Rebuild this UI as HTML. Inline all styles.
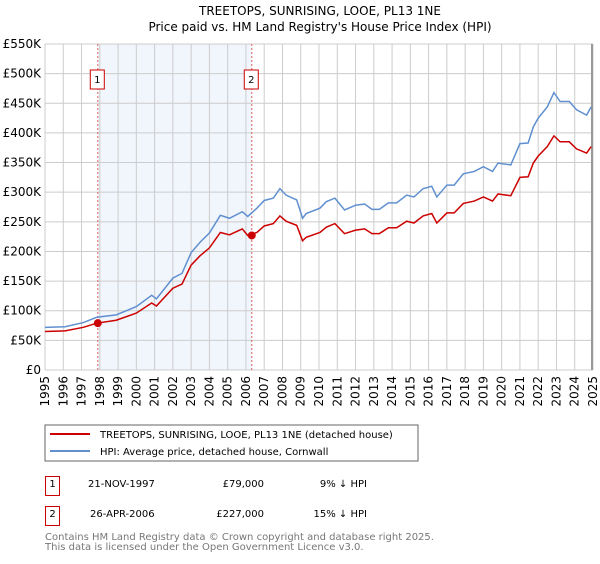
<!DOCTYPE html>
<html><head><meta charset="utf-8"><style>
body{margin:0;background:#fff;font-family:"DejaVu Sans","Liberation Sans",sans-serif}
svg text{font-family:"DejaVu Sans","Liberation Sans",sans-serif}
</style></head><body>
<svg id="c" width="600" height="560" viewBox="0 0 600 560">
<text x="320" y="15" font-size="12" text-anchor="middle">TREETOPS, SUNRISING, LOOE, PL13 1NE</text>
<text x="320" y="31" font-size="12" text-anchor="middle">Price paid vs. HM Land Registry's House Price Index (HPI)</text>
<g id="plot"></g>
<rect x="45" y="425" width="373" height="36" fill="#fff" stroke="#666"/>
<line x1="50" y1="434" x2="90" y2="434" stroke="#cc0000" stroke-width="2"/>
<text x="100" y="438" font-size="10">TREETOPS, SUNRISING, LOOE, PL13 1NE (detached house)</text>
<line x1="50" y1="451" x2="90" y2="451" stroke="#6090d0" stroke-width="2"/>
<text x="100" y="455" font-size="10">HPI: Average price, detached house, Cornwall</text>
<g font-size="10">
<rect x="45.5" y="476.5" width="14" height="19" fill="#fff" stroke="#cc0000"/>
<text x="52.5" y="487" text-anchor="middle">1</text>
<text x="88" y="487">21-NOV-1997</text>
<text x="264" y="487" text-anchor="end">£79,000</text>
<text x="367" y="487" text-anchor="end">9% ↓ HPI</text>
<rect x="45.5" y="506.5" width="14" height="19" fill="#fff" stroke="#cc0000"/>
<text x="52.5" y="517" text-anchor="middle">2</text>
<text x="90" y="517">26-APR-2006</text>
<text x="264" y="517" text-anchor="end">£227,000</text>
<text x="367" y="517" text-anchor="end">15% ↓ HPI</text>
</g>
<text x="45" y="540" font-size="10" fill="#777">Contains HM Land Registry data © Crown copyright and database right 2025.</text>
<text x="45" y="550" font-size="10" fill="#777">This data is licensed under the Open Government Licence v3.0.</text>
</svg>
<script>
const hpiYears=[1995,1996.1,1997.1,1997.83,1998.9,2000,2000.84,2001.1,2002,2002.5,2003,2003.5,2004,2004.6,2005.1,2005.8,2006.1,2006.6,2007,2007.5,2007.86,2008.2,2008.78,2009.1,2009.3,2010.05,2010.4,2010.87,2011.4,2012,2012.5,2012.9,2013.3,2013.8,2014.25,2014.8,2015.2,2015.7,2016.17,2016.45,2017,2017.4,2017.9,2018.5,2019,2019.5,2019.8,2020.5,2021,2021.45,2021.73,2022,2022.5,2022.86,2023.2,2023.7,2024.1,2024.65,2024.9];
const hpiValues=[72,73,80,89,93,107,126,120,155,163,198,216,231,261,256,267,259,273,286,290,306,295,287,256,264,273,284,290,270,278,280,271,271,282,282,295,292,306,310,292,312,312,331,335,343,335,349,346,382,383,410,425,444,468,453,453,439,430,444];
const priceValues=[65,66,72,79,84,96,113,108,138,145,177,193,206,232,228,238,227,232,243,247,260,251,244,218,224,232,241,247,230,236,238,230,230,240,240,251,248,260,264,248,265,265,281,285,292,285,297,294,325,326,349,361,377,395,385,385,373,366,377];
const sales=[{year:1997.89,value:79,label:"1"},{year:2006.32,value:227,label:"2"}];
const yTicks=[0,50,100,150,200,250,300,350,400,450,500,550];
const xTicks=[1995,1996,1997,1998,1999,2000,2001,2002,2003,2004,2005,2006,2007,2008,2009,2010,2011,2012,2013,2014,2015,2016,2017,2018,2019,2020,2021,2022,2023,2024,2025];
const X0=45,X1=593,Y0=370,Y1=44;
const xs=y=>X0+(y-1995)/30*(X1-X0);
const ys=v=>Y0-v/550*(Y0-Y1);
const NS="http://www.w3.org/2000/svg";
const g=document.getElementById('plot');
function mk(t,a){const e=document.createElementNS(NS,t);for(const k in a)e.setAttribute(k,a[k]);g.appendChild(e);return e;}
const shade=mk('rect',{x:xs(sales[0].year),y:Y1,width:xs(sales[1].year)-xs(sales[0].year),height:Y0-Y1,fill:'#eef2fb',opacity:0.8});


for(const t of yTicks){
 const l=mk('line',{x1:X0,x2:X1,y1:ys(t),y2:ys(t),stroke:'#ccc','stroke-width':1});
 
 
 const tx=mk('text',{x:X0-4,y:ys(t)+4,'font-size':12,'text-anchor':'end'});
 tx.textContent=t===0?'£0':'£'+t+'K';
 
 
}
for(const t of xTicks){
 const l=mk('line',{x1:xs(t),x2:xs(t),y1:Y1,y2:Y0,stroke:'#ccc','stroke-width':1});
 
 
 const tx=mk('text',{x:0,y:0,'font-size':12,'text-anchor':'end',transform:`translate(${xs(t)+4},${Y0+6}) rotate(-90)`});
 tx.textContent=t;
 
 
}
const hatch=mk('rect',{x:X1-2,y:Y1,width:2,height:Y0-Y1,fill:'#999'});


for(const s of sales){
 const l=mk('line',{x1:xs(s.year),x2:xs(s.year),y1:Y1,y2:Y0,stroke:'#e06060','stroke-dasharray':'2,2','stroke-width':1});
 
 
 const b=mk('rect',{x:xs(s.year)-7.5,y:70,width:14,height:19,fill:'#fff',stroke:'#cc0000'});
 
 
 const bt=mk('text',{x:xs(s.year)-0.5,y:83,'font-size':10,'text-anchor':'middle'});
 bt.textContent=s.label;
 
 
}
const hp=mk('polyline',{points:hpiYears.map((y,i)=>xs(y)+','+ys(hpiValues[i])).join(' '),fill:'none',stroke:'#6090d0','stroke-width':1.5});


const pp=mk('polyline',{points:hpiYears.map((y,i)=>xs(y)+','+ys(priceValues[i])).join(' '),fill:'none',stroke:'#cc0000','stroke-width':1.5});


for(const s of sales){
 const c=mk('circle',{cx:xs(s.year),cy:ys(s.value),r:4,fill:'#cc0000'});
 
 
}
</script>
</body></html>
